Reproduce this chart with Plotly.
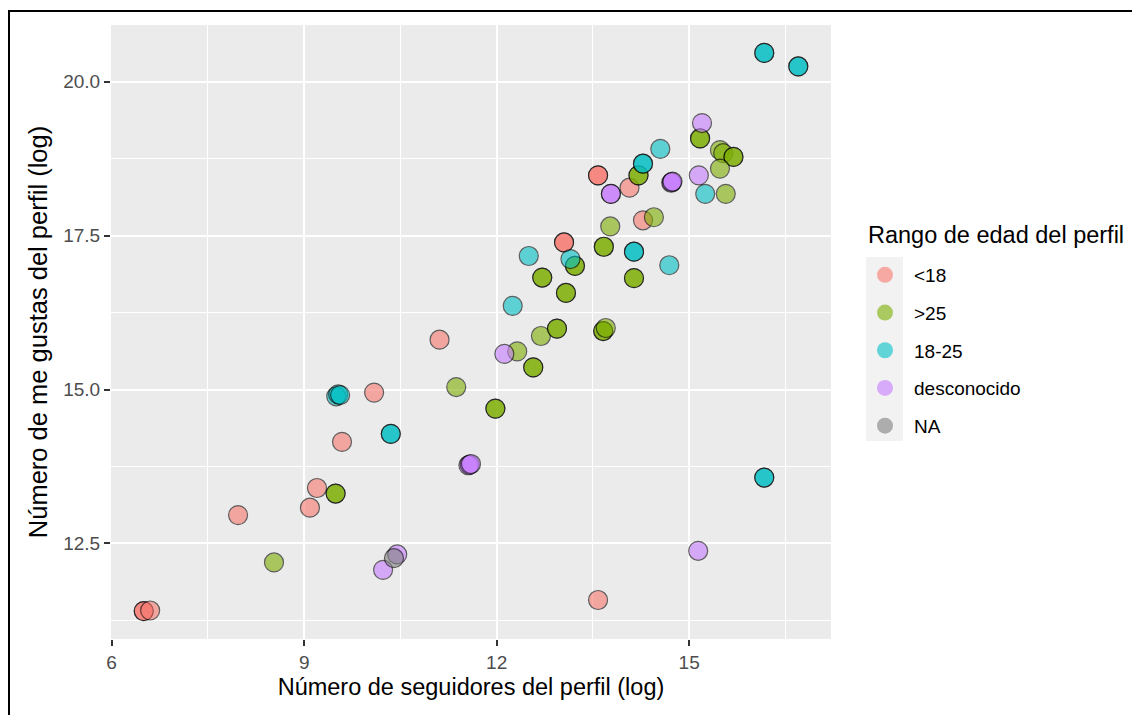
import plotly.graph_objects as go

# ---- data ----
categories = ["<18", ">25", "18-25", "desconocido", "NA"]
colors = ["#F8766D", "#7CAE00", "#00BFC4", "#C77CFF", "#7F7F7F"]

lt18_x = [6.50, 6.50, 6.60, 7.97, 9.09, 9.20, 9.59, 10.09, 11.11, 13.05, 13.05,
          13.58, 13.58, 14.07, 14.28, 13.58]
lt18_y = [11.40, 11.40, 11.41, 12.96, 13.08, 13.40, 14.15, 14.95, 15.81, 17.39, 17.39,
          18.48, 18.48, 18.28, 17.75, 11.58]

gt25_x = [8.53, 9.49, 9.49, 11.37, 11.98, 11.98, 12.32, 12.57, 12.57, 12.69, 12.94,
          12.94, 13.66, 13.66, 13.70, 13.08, 13.08, 12.71, 12.71, 13.22, 13.22, 13.67,
          13.67, 14.14, 14.14, 13.77, 14.45, 14.21, 14.21, 15.17, 15.17, 15.48, 15.53,
          15.69, 15.69, 15.48, 15.57]
gt25_y = [12.19, 13.31, 13.31, 15.04, 14.69, 14.69, 15.62, 15.36, 15.36, 15.87, 15.99,
          15.99, 15.95, 15.95, 16.00, 16.57, 16.57, 16.82, 16.82, 17.01, 17.01, 17.32,
          17.32, 16.81, 16.81, 17.65, 17.80, 18.48, 18.48, 19.08, 19.08, 18.89, 18.84,
          18.78, 18.78, 18.59, 18.18]

a1825_x = [9.50, 9.53, 9.56, 10.35, 10.35, 12.25, 12.50, 13.15, 14.14, 14.14, 14.69,
           14.28, 14.28, 14.55, 15.25, 16.17, 16.17, 16.70, 16.70, 16.17, 16.17]
a1825_y = [14.89, 14.92, 14.91, 14.28, 14.28, 16.36, 17.17, 17.12, 17.24, 17.24, 17.02,
           18.67, 18.67, 18.91, 18.18, 20.47, 20.47, 20.25, 20.25, 13.57, 13.57]

desc_x = [10.23, 10.45, 11.56, 11.58, 11.60, 12.12, 13.78, 13.78, 14.72, 14.73, 14.74,
          15.15, 15.20, 15.14]
desc_y = [12.07, 12.32, 13.77, 13.78, 13.79, 15.58, 18.18, 18.18, 18.36, 18.37, 18.38,
          18.48, 19.33, 12.38]

na_x = [10.40]
na_y = [12.26]

series_x = [lt18_x, gt25_x, a1825_x, desc_x, na_x]
series_y = [lt18_y, gt25_y, a1825_y, desc_y, na_y]

x_ticks = [6, 9, 12, 15]
y_ticks = [12.5, 15.0, 17.5, 20.0]
y_tick_labels = ["12.5", "15.0", "17.5", "20.0"]

x_title = "Número de seguidores del perfil (log)"
y_title = "Número de me gustas del perfil (log)"
legend_title = "Rango de edad del perfil"

ALPHA = 0.6
FONT = "Liberation Sans, Arial, Helvetica, sans-serif"

fig = go.Figure()

for i, (name, col) in enumerate(zip(categories, colors)):
    fig.add_trace(go.Scatter(
        x=series_x[i], y=series_y[i], mode="markers", name=name,
        showlegend=False, legendgroup=name,
        marker=dict(size=19, color=col, opacity=ALPHA,
                    line=dict(color="black", width=1.2)),
        hovertemplate=name + "<br>%{x}, %{y}<extra></extra>",
    ))

for i, (name, col) in enumerate(zip(categories, colors)):
    fig.add_trace(go.Scatter(
        x=[None], y=[None], mode="markers", name=name,
        legendgroup="lg" + str(i), legendrank=i + 1,
        marker=dict(size=19, color=col, opacity=ALPHA, line=dict(width=0)),
    ))

# ggplot-like 5% expansion
all_x = [v for s in series_x for v in s]
all_y = [v for s in series_y for v in s]
xr = max(all_x) - min(all_x)
yr = max(all_y) - min(all_y)
x_range = [min(all_x) - 0.05 * xr, max(all_x) + 0.05 * xr]
y_range = [min(all_y) - 0.05 * yr, max(all_y) + 0.05 * yr]

W, H = 1132, 715
L, R, T, B = 111, 301, 25, 76
pw, ph = W - L - R, H - T - B

def px_x(p):
    return (p - L) / pw

def px_y(p):
    return (H - B - p) / ph

fig.update_layout(
    width=W, height=H,
    margin=dict(l=L, r=R, t=T, b=B),
    paper_bgcolor="white", plot_bgcolor="#EBEBEB",
    font=dict(family=FONT, color="black"),
    showlegend=True,
    legend=dict(
        x=px_x(856), xanchor="left", y=px_y(256), yanchor="top",
        font=dict(size=19, color="black"),
        bgcolor="rgba(0,0,0,0)", itemsizing="trace", itemwidth=48,
        tracegroupgap=10, traceorder="grouped",
    ),
    xaxis=dict(
        range=x_range, tickmode="array", tickvals=x_ticks,
        ticks="outside", ticklen=6, tickwidth=1.8, tickcolor="#333333",
        tickfont=dict(size=19, color="#4D4D4D"),
        showgrid=True, gridcolor="white", gridwidth=2,
        minor=dict(dtick=1.5, tick0=0, showgrid=True, gridcolor="white", gridwidth=1, ticks=""),
        zeroline=False, showline=False,
        title=dict(text=x_title, font=dict(size=23.5, color="black"), standoff=6),
    ),
    yaxis=dict(
        range=y_range, tickmode="array", tickvals=y_ticks, ticktext=y_tick_labels,
        ticks="outside", ticklen=6, tickwidth=1.8, tickcolor="#333333",
        tickfont=dict(size=19, color="#4D4D4D"),
        showgrid=True, gridcolor="white", gridwidth=2,
        minor=dict(dtick=1.25, tick0=0, showgrid=True, gridcolor="white", gridwidth=1, ticks=""),
        zeroline=False, showline=False,
        title=dict(text=y_title, font=dict(size=25.5, color="black"), standoff=8),
    ),
    annotations=[
        dict(text=legend_title, xref="paper", yref="paper",
             x=px_x(866), y=px_y(235), xanchor="left", yanchor="middle",
             showarrow=False, font=dict(size=23.5, color="black")),
    ],
    shapes=[
        # grey legend key background
        dict(type="rect", xref="paper", yref="paper",
             x0=px_x(866), x1=px_x(903), y0=px_y(441), y1=px_y(257),
             fillcolor="#F2F2F2", line=dict(width=0), layer="below"),
        # outer frame (left and top edges visible)
        dict(type="rect", xref="paper", yref="paper",
             x0=px_x(9), x1=px_x(W + 20), y0=px_y(H + 20), y1=px_y(11),
             fillcolor="rgba(0,0,0,0)", line=dict(color="black", width=2), layer="above"),
    ],
)

fig.write_html("out.html")
